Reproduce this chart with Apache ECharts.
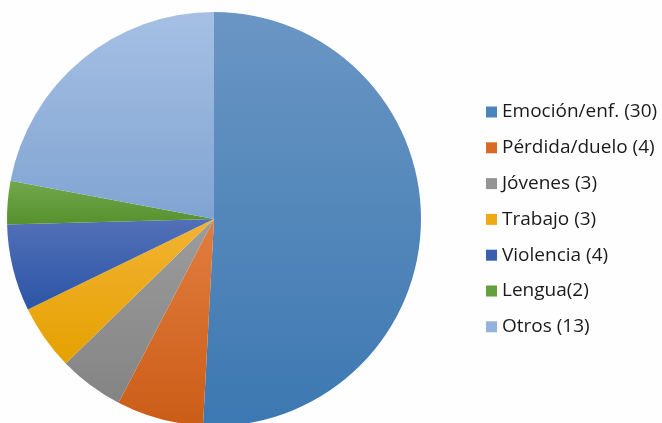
<!DOCTYPE html>
<html>
<head>
<meta charset="utf-8">
<script src="https://cdn.jsdelivr.net/npm/echarts@6/dist/echarts.min.js"></script>
<style>
  html, body { margin: 0; padding: 0; background: #fefefe; }
  #chart { width: 662px; height: 423px; }
</style>
</head>
<body>
<div id="chart"></div>
<script>
const categories = ['Emoción/enf. (30)', 'Pérdida/duelo (4)', 'Jóvenes (3)', 'Trabajo (3)', 'Violencia (4)', 'Lengua(2)', 'Otros (13)']
const values = [30, 4, 3, 3, 4, 2, 13]

// colores: [arriba, abajo] para el degradado de cada sector
const colorPairs = [
  ['#6a96c4', '#3c78b1'],
  ['#e27d40', '#cb5d16'],
  ['#9c9c9c', '#848484'],
  ['#f2b333', '#e5a100'],
  ['#5270b8', '#2c55a5'],
  ['#72a84c', '#56912e'],
  ['#a6c0e4', '#80a4d2']
]
// color plano de la leyenda
const legendColors = ['#4a84bd', '#d86a27', '#949494', '#eeaa16', '#3a60ad', '#65a03e', '#93b3dc']

const myChart = echarts.init(document.getElementById('chart'))

const option = {
  backgroundColor: '#fefefe',
  animation: false,
  legend: {
    orient: 'vertical',
    left: 481,
    top: 96,
    icon: 'rect',
    itemWidth: 11,
    itemHeight: 11,
    itemGap: 13.8,
    data: categories.map((name, i) => ({
      name,
      itemStyle: { color: legendColors[i] }
    })),
    textStyle: {
      fontFamily: 'Open Sans',
      fontSize: 19,
      lineHeight: 22,
      color: '#1a1a1a'
    }
  },
  series: [
    {
      type: 'pie',
      center: [214, 219],
      radius: 207,
      startAngle: 90,
      clockwise: true,
      label: { show: false },
      labelLine: { show: false },
      emphasis: { scale: false },
      data: categories.map((name, i) => ({
        name,
        value: values[i],
        itemStyle: {
          borderWidth: 0,
          color: new echarts.graphic.LinearGradient(0, 0, 0, 1, [
            { offset: 0, color: colorPairs[i][0] },
            { offset: 1, color: colorPairs[i][1] }
          ])
        }
      }))
    }
  ]
}

myChart.setOption(option)
</script>
</body>
</html>
